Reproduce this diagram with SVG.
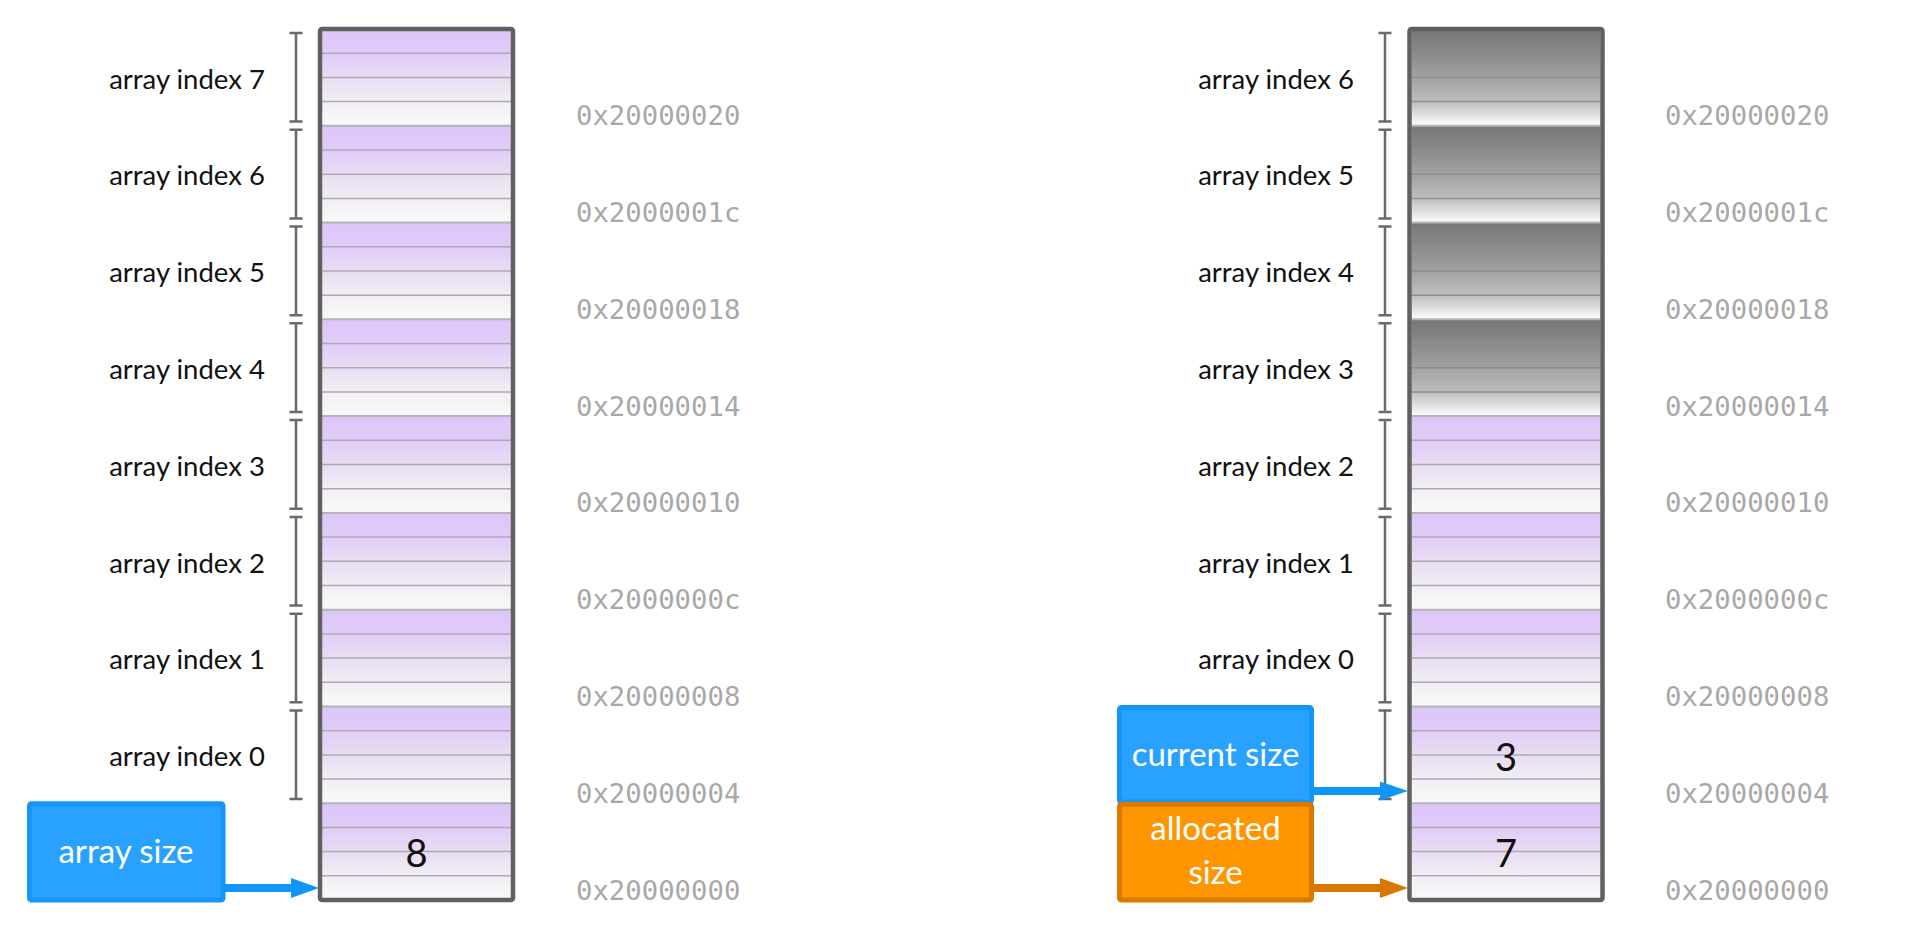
<svg xmlns="http://www.w3.org/2000/svg" width="1920" height="934" viewBox="0 0 1920 934">
<style>
.lbl{font-family:Lato,"Open Sans",sans-serif;font-size:27.5px;fill:#111;text-anchor:middle}
.addr{font-family:"DejaVu Sans Mono","Liberation Mono",monospace;font-size:27.3px;fill:#a8a8a8}
.num{font-family:Lato,"Open Sans",sans-serif;font-size:38px;fill:#111;text-anchor:middle}
.box{font-family:Lato,"Open Sans",sans-serif;font-size:33px;fill:#fff;text-anchor:middle}
.brk{stroke:#6a6a6a;stroke-width:2.5;fill:none}
.outline{fill:none;stroke:#606060;stroke-width:4.5}
.cellb{stroke:#b4b4b4;stroke-width:2}
</style>
<defs>
<linearGradient id="gp" x1="0" y1="0" x2="0" y2="1">
<stop offset="0" stop-color="#ddc5fa"/>
<stop offset="0.25" stop-color="#e1ccf7"/>
<stop offset="0.5" stop-color="#e8ddf3"/>
<stop offset="0.75" stop-color="#f1eef4"/>
<stop offset="1" stop-color="#f9f9f9"/>
</linearGradient>
<linearGradient id="gg" x1="0" y1="0" x2="0" y2="1">
<stop offset="0" stop-color="#777"/>
<stop offset="0.25" stop-color="#8a8a8a"/>
<stop offset="0.5" stop-color="#a2a2a2"/>
<stop offset="0.75" stop-color="#bdbdbd"/>
<stop offset="1" stop-color="#fdfdfd"/>
</linearGradient>
<g id="cellP">
<rect x="0" y="0" width="189" height="96.8" fill="url(#gp)"/>
<path d="M0,24.2H189M0,48.4H189M0,72.6H189" stroke="#b1a7bb" stroke-width="1.5"/>
</g>
<g id="cellG">
<rect x="0" y="0" width="189" height="96.8" fill="url(#gg)"/>
<path d="M0,24.2H189M0,48.4H189M0,72.6H189" stroke="#8e8e8e" stroke-width="1.5"/>
</g>
<g id="brk">
<path class="brk" d="M296,4V92.6M289.5,4H302.5M289.5,92.6H302.5"/>
</g>
</defs>
<rect width="1920" height="934" fill="#fff"/>

<g id="left-memory">
<use href="#cellP" x="322" y="29"/>
<use href="#cellP" x="322" y="125.8"/>
<use href="#cellP" x="322" y="222.6"/>
<use href="#cellP" x="322" y="319.3"/>
<use href="#cellP" x="322" y="416.1"/>
<use href="#cellP" x="322" y="512.9"/>
<use href="#cellP" x="322" y="609.7"/>
<use href="#cellP" x="322" y="706.5"/>
<use href="#cellP" x="322" y="803.2"/>
<path class="cellb" d="M322,125.8H511M322,222.6H511M322,319.3H511M322,416.1H511M322,512.9H511M322,609.7H511M322,706.5H511M322,803.2H511"/>
<rect class="outline" x="320" y="29" width="193" height="871" rx="2"/>
<text class="num" x="416.5" y="867">8</text>
</g>

<g id="left-brackets">
<use href="#brk" y="29"/>
<use href="#brk" y="125.8"/>
<use href="#brk" y="222.6"/>
<use href="#brk" y="319.3"/>
<use href="#brk" y="416.1"/>
<use href="#brk" y="512.9"/>
<use href="#brk" y="609.7"/>
<use href="#brk" y="706.5"/>
</g>

<g id="left-labels">
<text class="lbl" x="187" y="88.6">array index 7</text>
<text class="lbl" x="187" y="185.4">array index 6</text>
<text class="lbl" x="187" y="282.2">array index 5</text>
<text class="lbl" x="187" y="378.9">array index 4</text>
<text class="lbl" x="187" y="475.7">array index 3</text>
<text class="lbl" x="187" y="572.5">array index 2</text>
<text class="lbl" x="187" y="669.3">array index 1</text>
<text class="lbl" x="187" y="766.1">array index 0</text>
</g>

<g id="left-addresses">
<text class="addr" x="576" y="125">0x20000020</text>
<text class="addr" x="576" y="222">0x2000001c</text>
<text class="addr" x="576" y="318.5">0x20000018</text>
<text class="addr" x="576" y="415.5">0x20000014</text>
<text class="addr" x="576" y="512">0x20000010</text>
<text class="addr" x="576" y="609">0x2000000c</text>
<text class="addr" x="576" y="706">0x20000008</text>
<text class="addr" x="576" y="802.5">0x20000004</text>
<text class="addr" x="576" y="899.5">0x20000000</text>
</g>

<g id="array-size">
<rect x="29.5" y="803.8" width="193.5" height="96.2" rx="2" fill="#29a2ff" stroke="#1496f8" stroke-width="5"/>
<text class="box" x="126" y="862.5">array size</text>
</g>

<g id="right-memory">
<use href="#cellG" x="1411.5" y="29"/>
<use href="#cellG" x="1411.5" y="125.8"/>
<use href="#cellG" x="1411.5" y="222.6"/>
<use href="#cellG" x="1411.5" y="319.3"/>
<use href="#cellP" x="1411.5" y="416.1"/>
<use href="#cellP" x="1411.5" y="512.9"/>
<use href="#cellP" x="1411.5" y="609.7"/>
<use href="#cellP" x="1411.5" y="706.5"/>
<use href="#cellP" x="1411.5" y="803.2"/>
<path class="cellb" d="M1411.5,125.8H1600.5M1411.5,222.6H1600.5M1411.5,319.3H1600.5M1411.5,416.1H1600.5M1411.5,512.9H1600.5M1411.5,609.7H1600.5M1411.5,706.5H1600.5M1411.5,803.2H1600.5"/>
<rect class="outline" x="1409.5" y="29" width="193" height="871" rx="2"/>
<text class="num" x="1506" y="771">3</text>
<text class="num" x="1506" y="867">7</text>
</g>

<g id="right-brackets" transform="translate(1089,0)">
<use href="#brk" y="29"/>
<use href="#brk" y="125.8"/>
<use href="#brk" y="222.6"/>
<use href="#brk" y="319.3"/>
<use href="#brk" y="416.1"/>
<use href="#brk" y="512.9"/>
<use href="#brk" y="609.7"/>
<use href="#brk" y="706.5"/>
</g>

<g id="right-labels">
<text class="lbl" x="1276" y="88.6">array index 6</text>
<text class="lbl" x="1276" y="185.4">array index 5</text>
<text class="lbl" x="1276" y="282.2">array index 4</text>
<text class="lbl" x="1276" y="378.9">array index 3</text>
<text class="lbl" x="1276" y="475.7">array index 2</text>
<text class="lbl" x="1276" y="572.5">array index 1</text>
<text class="lbl" x="1276" y="669.3">array index 0</text>
</g>

<g id="right-addresses">
<text class="addr" x="1665" y="125">0x20000020</text>
<text class="addr" x="1665" y="222">0x2000001c</text>
<text class="addr" x="1665" y="318.5">0x20000018</text>
<text class="addr" x="1665" y="415.5">0x20000014</text>
<text class="addr" x="1665" y="512">0x20000010</text>
<text class="addr" x="1665" y="609">0x2000000c</text>
<text class="addr" x="1665" y="706">0x20000008</text>
<text class="addr" x="1665" y="802.5">0x20000004</text>
<text class="addr" x="1665" y="899.5">0x20000000</text>
</g>

<g id="current-size">
<rect x="1119.5" y="707.5" width="192" height="94.5" rx="2" fill="#29a2ff" stroke="#1496f8" stroke-width="5"/>
<text class="box" x="1215.5" y="766">current size</text>
</g>

<g id="allocated-size">
<rect x="1119.5" y="804.3" width="192" height="95.7" rx="2" fill="#ff9600" stroke="#da7800" stroke-width="5"/>
<text class="box" x="1215.5" y="840">allocated</text>
<text class="box" x="1215.5" y="884">size</text>
</g>

<g id="connectors">
<path d="M223,888H292" stroke="#0f96f8" stroke-width="8"/>
<polygon points="291,878 319,888 291,898" fill="#0f96f8"/>
<path d="M1314,791H1381" stroke="#0f96f8" stroke-width="8"/>
<polygon points="1380,781.5 1408,791 1380,800.5" fill="#0f96f8"/>
<path d="M1314,888H1381" stroke="#d97800" stroke-width="8"/>
<polygon points="1380,878 1408,888 1380,898" fill="#d97800"/>
</g>
</svg>
